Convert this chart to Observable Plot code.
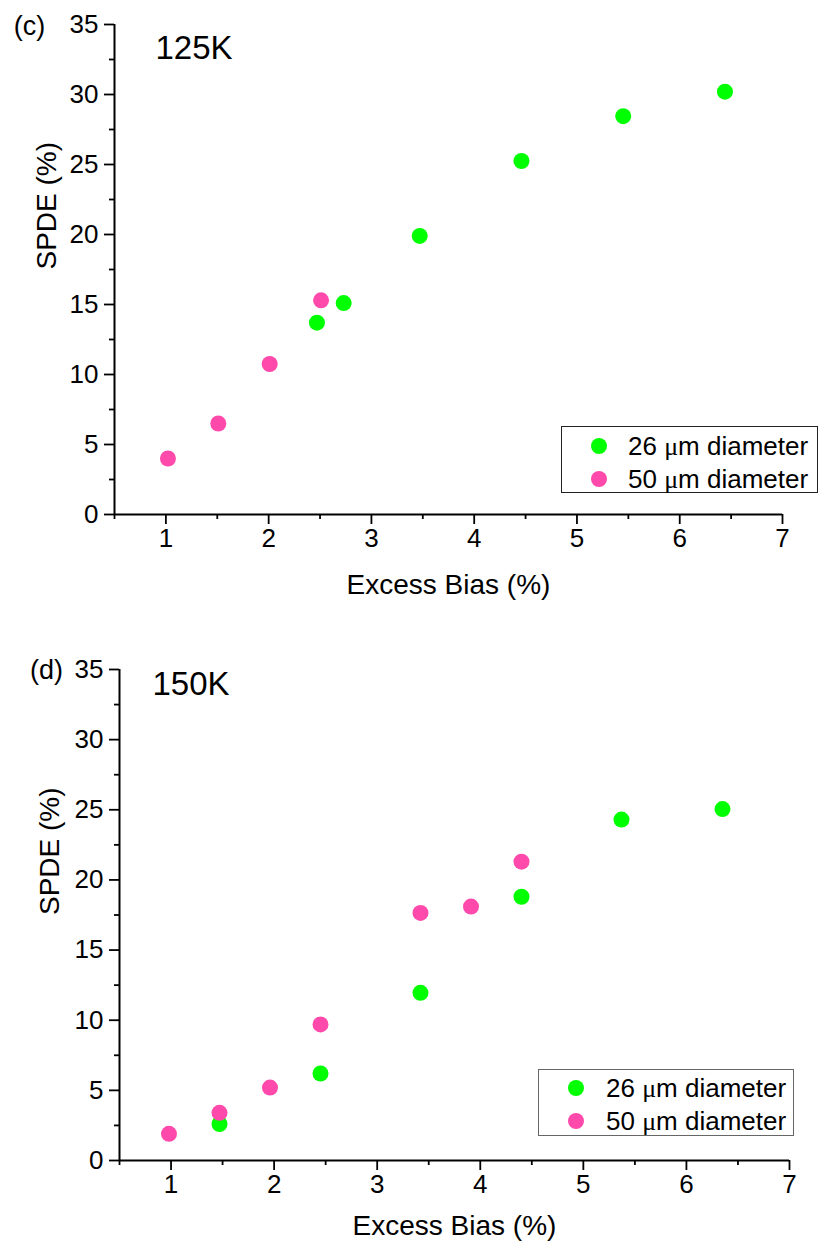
<!DOCTYPE html>
<html>
<head>
<meta charset="utf-8">
<script src="https://cdn.jsdelivr.net/npm/d3@7"></script>
<script src="https://cdn.jsdelivr.net/npm/@observablehq/plot@0.6"></script>
<style>
  body { margin: 0; background: #fff; }
  #wrap { position: relative; width: 818px; height: 1249px; font-family: "Liberation Sans", Arial, sans-serif; }
  .panel { position: absolute; left: 0; }
  .legend { position: absolute; background: #fff; font-size: 26px; color: #000; box-sizing: border-box; }
  .legend .row { position: absolute; left: 0; white-space: nowrap; }
  .mu { font-family: "Liberation Serif", "DejaVu Serif", serif; }
</style>
</head>
<body>
<div id="wrap"></div>
<script>
// ---- data ----
const seriesNames = ["26 μm diameter", "50 μm diameter"];
const seriesColors = ["#00ff00", "#ff4aab"];

// panel (c) 125K
const c26x = [2.47, 2.73, 3.47, 4.46, 5.45, 6.44];
const c26y = [13.7, 15.1, 19.9, 25.25, 28.45, 30.2];
const c50x = [1.02, 1.51, 2.01, 2.51];
const c50y = [4.0, 6.5, 10.75, 15.3];

// panel (d) 150K
const d26x = [1.47, 2.45, 3.42, 4.40, 5.37, 6.35];
const d26y = [2.6, 6.2, 11.95, 18.8, 24.3, 25.05];
const d50x = [0.98, 1.47, 1.96, 2.45, 3.42, 3.91, 4.40];
const d50y = [1.9, 3.4, 5.2, 9.7, 17.65, 18.1, 21.3];

// ticks
const xMajor = [1, 2, 3, 4, 5, 6, 7];
const xMinor = [0.5, 1.5, 2.5, 3.5, 4.5, 5.5, 6.5];
const yMajor = [0, 5, 10, 15, 20, 25, 30, 35];
const yMinor = [2.5, 7.5, 12.5, 17.5, 22.5, 27.5, 32.5];
const xDomain = [0.5, 7];
const yDomain = [0, 35];

const xTitle = "Excess Bias (%)";
const yTitle = "SPDE (%)";

function rows(xs, ys, s) { return xs.map((x, i) => ({x, y: ys[i], s})); }

function panel(cfg) {
  const data = [...rows(cfg.x26, cfg.y26, seriesNames[0]), ...rows(cfg.x50, cfg.y50, seriesNames[1])];
  const font = "Liberation Sans, Arial, sans-serif";
  const none = () => "";
  return Plot.plot({
    width: 818,
    height: cfg.height,
    marginTop: cfg.mt, marginBottom: cfg.mb, marginLeft: cfg.ml, marginRight: cfg.mr,
    style: {fontFamily: font, color: "#000", background: "#fff", overflow: "visible"},
    x: {domain: xDomain, axis: null},
    y: {domain: yDomain, axis: null},
    color: {domain: seriesNames, range: seriesColors},
    marks: [
      Plot.axisX({ticks: xMinor, tickSize: 5, tickFormat: none, strokeWidth: 1.8, label: null}),
      Plot.axisX({ticks: xMajor, tickSize: 10, tickFormat: none, strokeWidth: 1.8, label: null}),
      Plot.axisY({ticks: yMinor, tickSize: 5, tickFormat: none, strokeWidth: 1.8, label: null}),
      Plot.axisY({ticks: yMajor, tickSize: 10, tickFormat: none, strokeWidth: 1.8, label: null}),
      Plot.text(xMajor, {x: d => d, y: yDomain[0], dy: 14, lineAnchor: "top", fontSize: "26px", text: d => String(d)}),
      Plot.text(yMajor, {x: xDomain[0], y: d => d, dx: -16, textAnchor: "end", lineAnchor: "middle", fontSize: "26px", text: d => String(d)}),
      Plot.ruleY([yDomain[0]], {x1: xDomain[0], x2: xDomain[1], strokeWidth: 2}),
      Plot.ruleX([xDomain[0]], {y1: yDomain[0], y2: yDomain[1], strokeWidth: 2}),
      Plot.dot(data, {x: "x", y: "y", fill: "s", r: 8}),
      Plot.text([xTitle], {frameAnchor: "bottom", dy: cfg.xtdy, fontSize: "28px", lineAnchor: "middle"}),
      Plot.text([yTitle], {frameAnchor: "left", dx: cfg.ytdx, rotate: -90, fontSize: "28px", lineAnchor: "middle"}),
      Plot.text([cfg.temp], {frameAnchor: "top-left", dx: cfg.tdx, dy: cfg.tdy, fontSize: "33px", textAnchor: "start", lineAnchor: "bottom"}),
      Plot.text([cfg.tag], {frameAnchor: "top-left", dx: cfg.gdx, dy: cfg.gdy, fontSize: "27px", textAnchor: "middle", lineAnchor: "middle"})
    ]
  });
}

function legend(cfg) {
  const div = document.createElement("div");
  div.className = "legend";
  Object.assign(div.style, {left: cfg.left + "px", top: cfg.top + "px", width: cfg.w + "px", height: cfg.h + "px", border: "1px solid " + cfg.border});
  seriesNames.forEach((name, i) => {
    const row = document.createElement("div");
    row.className = "row";
    row.style.top = (cfg.rows[i] - 15) + "px";
    row.style.height = "30px";
    row.style.width = "100%";
    const svgNS = "http://www.w3.org/2000/svg";
    const svg = document.createElementNS(svgNS, "svg");
    svg.setAttribute("width", 20); svg.setAttribute("height", 20);
    svg.style.position = "absolute"; svg.style.left = (cfg.dotx - 10) + "px"; svg.style.top = "5px";
    const c = document.createElementNS(svgNS, "circle");
    c.setAttribute("cx", 10); c.setAttribute("cy", 10); c.setAttribute("r", 8); c.setAttribute("fill", seriesColors[i]);
    svg.appendChild(c);
    row.appendChild(svg);
    const t = document.createElement("span");
    t.style.position = "absolute"; t.style.left = cfg.textx + "px"; t.style.top = "0px"; t.style.lineHeight = "30px";
    const parts = name.split("μ");
    t.append(parts[0]);
    const mu = document.createElement("span"); mu.className = "mu"; mu.textContent = "μ";
    t.append(mu);
    t.append(parts[1]);
    row.appendChild(t);
    div.appendChild(row);
  });
  return div;
}

const wrap = document.getElementById("wrap");

const pc = panel({x26: c26x, y26: c26y, x50: c50x, y50: c50y, height: 620, mt: 24, mb: 106, ml: 114, mr: 36,
  xtdy: 71, ytdx: -67, temp: "125K", tdx: 41, tdy: 34, tag: "(c)", gdx: -85, gdy: 2});
pc.classList.add("panel"); pc.style.top = "0px";
wrap.appendChild(pc);

const pd = panel({x26: d26x, y26: d26y, x50: d50x, y50: d50y, height: 629, mt: 49, mb: 89, ml: 119, mr: 29,
  xtdy: 66, ytdx: -69, temp: "150K", tdx: 33, tdy: 25, tag: "(d)", gdx: -73, gdy: 1});
pd.classList.add("panel"); pd.style.top = "620px";
wrap.appendChild(pd);

wrap.appendChild(legend({left: 561, top: 426, w: 257, h: 67, border: "#222", rows: [19, 52], dotx: 37, textx: 66}));
wrap.appendChild(legend({left: 538, top: 1069, w: 256, h: 67, border: "#666", rows: [18, 51], dotx: 37, textx: 67}));
</script>
</body>
</html>
